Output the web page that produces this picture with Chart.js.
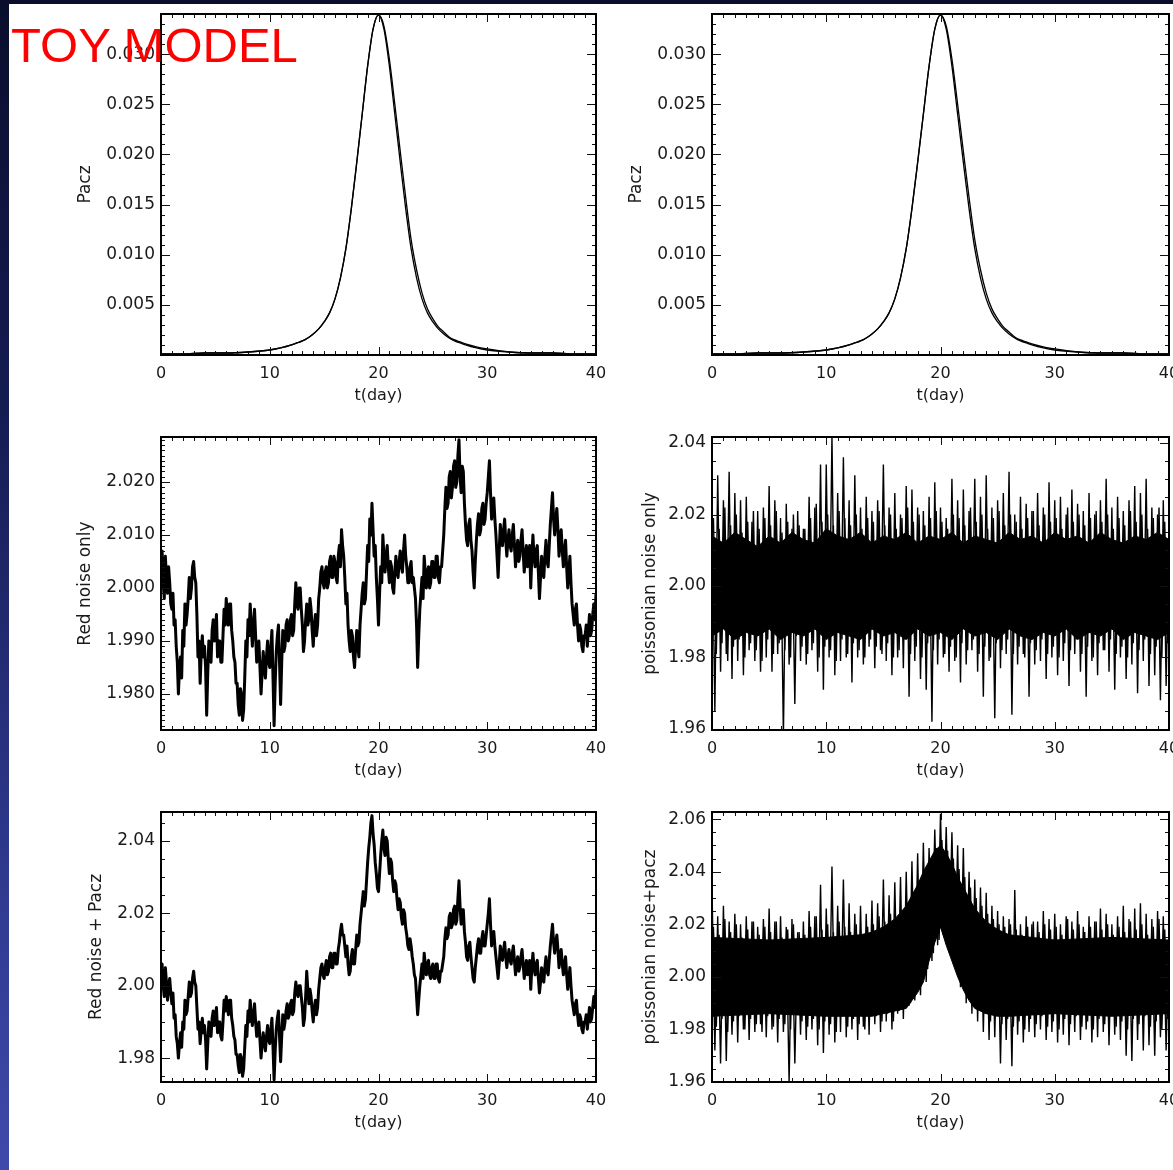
<!DOCTYPE html>
<html>
<head>
<meta charset="utf-8">
<title>Toy model</title>
<script src="https://cdn.jsdelivr.net/npm/chart.js@4.4.1/dist/chart.umd.min.js"></script>
<style>
  html, body { margin: 0; padding: 0; }
  body { width: 1173px; height: 1170px; overflow: hidden; background: #fff; position: relative; }
  #edgeLeft { position: absolute; left: 0; top: 0; width: 9px; height: 1170px;
    background: linear-gradient(to bottom, #0a0e2c 0%, #151c52 35%, #2c3688 70%, #4049aa 100%); }
  #edgeTop { position: absolute; left: 0; top: 0; width: 1173px; height: 4px; background: #0a0e2c; }
  canvas { position: absolute; }
  #title { position: absolute; left: 11px; top: 21px; font: 49px/49px "Liberation Sans", Arial, sans-serif;
    color: #ff0000; z-index: 10; white-space: nowrap; }
</style>
</head>
<body>
<div id="edgeLeft"></div>
<div id="edgeTop"></div>
<div id="title">TOY MODEL</div>
<script>
// ---- data ----

const X_TICKS = [0, 10, 20, 30, 40];
const PACZ_TICKS = [0.005, 0.010, 0.015, 0.020, 0.025, 0.030];
const RED_TICKS = [1.980, 1.990, 2.000, 2.010, 2.020];
const POIS_TICKS = [1.96, 1.98, 2.00, 2.02, 2.04];
const REDPACZ_TICKS = [1.98, 2.00, 2.02, 2.04];
const POISPACZ_TICKS = [1.96, 1.98, 2.00, 2.02, 2.04, 2.06];

// Paczynski curve, two nearly identical models
const PACZ_T = [0, 2, 4, 6, 8, 10, 11, 12, 12.5, 13, 13.5, 14, 14.5, 15, 15.5, 16, 16.5, 17, 17.5, 18, 18.5,
  19, 19.5, 20, 20.5, 21, 21.5, 22, 22.5, 23, 23.5, 24, 24.5, 25, 25.5, 26, 26.5, 27, 27.5, 28,
  29, 30, 32, 34, 36, 38, 40];
const PACZ_A = [0.0001, 0.0001, 0.0002, 0.0002, 0.0003, 0.0005, 0.0007,
  0.0010, 0.0012, 0.0014, 0.0017, 0.0021, 0.0026, 0.0033, 0.0042, 0.0056, 0.0077, 0.0106, 0.0146, 0.0192,
  0.0240, 0.0288, 0.0325, 0.0339, 0.0325, 0.0288, 0.0240, 0.0192, 0.0146, 0.0106, 0.0077, 0.0056, 0.0042,
  0.0033, 0.0026, 0.0021, 0.0017, 0.0014, 0.0012, 0.0010,
  0.0007, 0.0005, 0.0003, 0.0002, 0.0002, 0.0001, 0.0001];
const PACZ_B = [0.0001, 0.0001, 0.0002, 0.0002, 0.0003, 0.0005, 0.0007,
  0.0010, 0.0012, 0.0014, 0.0017, 0.0021, 0.0026, 0.0033, 0.0042, 0.0056, 0.0077, 0.0106, 0.0146, 0.0192,
  0.0240, 0.0288, 0.0325, 0.0339, 0.0328, 0.0295, 0.0250, 0.0203, 0.0157, 0.0115, 0.0085, 0.0062, 0.0046,
  0.0036, 0.0028, 0.0023, 0.0018, 0.0015, 0.0013, 0.0011,
  0.0008, 0.0006, 0.0003, 0.0002, 0.0002, 0.0001, 0.0001];

// red noise, sampled every 0.1 day (one row per day)
const RED_STEP = 0.1;
const RED_NOISE = [
  2.004, 2.007, 2.001, 1.998, 2.006, 2.002, 1.999, 2.004, 2.001, 1.997,
  1.996, 1.999, 1.993, 1.994, 1.989, 1.986, 1.980, 1.985, 1.987, 1.983,
  1.992, 1.989, 1.997, 1.993, 1.995, 1.998, 2.002, 1.998, 2.000, 2.004,
  2.005, 2.002, 2.001, 1.995, 1.987, 1.990, 1.982, 1.988, 1.991, 1.987,
  1.989, 1.985, 1.976, 1.984, 1.990, 1.987, 1.986, 1.992, 1.994, 1.990,
  1.992, 1.995, 1.987, 1.990, 1.990, 1.986, 1.986, 1.991, 1.996, 1.993,
  1.998, 1.994, 1.993, 1.997, 1.997, 1.992, 1.990, 1.987, 1.986, 1.982,
  1.982, 1.978, 1.976, 1.981, 1.980, 1.975, 1.977, 1.983, 1.990, 1.987,
  1.994, 1.991, 1.997, 1.993, 1.989, 1.993, 1.996, 1.991, 1.986, 1.989,
  1.990, 1.985, 1.980, 1.984, 1.988, 1.985, 1.983, 1.987, 1.990, 1.986,
  1.985, 1.989, 1.992, 1.983, 1.974, 1.982, 1.988, 1.991, 1.993, 1.986,
  1.978, 1.986, 1.992, 1.988, 1.989, 1.993, 1.994, 1.990, 1.991, 1.994,
  1.995, 1.991, 1.992, 1.997, 2.001, 1.997, 1.996, 2.000, 2.000, 1.996,
  1.993, 1.988, 1.990, 1.994, 1.997, 1.993, 1.994, 1.998, 1.996, 1.992,
  1.989, 1.993, 1.995, 1.991, 1.993, 1.998, 2.000, 2.003, 2.004, 2.001,
  2.000, 2.003, 2.004, 2.000, 2.001, 2.005, 2.006, 2.002, 2.002, 2.006,
  2.005, 2.002, 2.001, 2.006, 2.008, 2.004, 2.011, 2.008, 2.006, 2.002,
  1.997, 1.999, 1.993, 1.990, 1.988, 1.992, 1.991, 1.987, 1.985, 1.989,
  1.992, 1.989, 1.987, 1.993, 1.996, 1.999, 2.001, 1.997, 1.998, 2.003,
  2.008, 2.005, 2.013, 2.010, 2.016, 2.011, 2.006, 2.008, 2.002, 1.998,
  1.993, 1.999, 2.004, 2.001, 2.010, 2.006, 2.003, 2.006, 2.008, 2.004,
  2.001, 2.005, 2.004, 2.000, 1.999, 2.003, 2.006, 2.003, 2.002, 2.005,
  2.007, 2.004, 2.003, 2.007, 2.010, 2.006, 2.004, 2.001, 2.001, 2.004,
  2.005, 2.001, 2.002, 2.000, 1.998, 1.993, 1.985, 1.991, 1.996, 1.999,
  2.002, 1.998, 2.006, 2.003, 2.000, 2.003, 2.004, 2.000, 2.001, 2.005,
  2.005, 2.002, 2.002, 2.006, 2.006, 2.002, 2.001, 2.004, 2.004, 2.007,
  2.010, 2.015, 2.019, 2.015, 2.016, 2.021, 2.022, 2.017, 2.019, 2.023,
  2.024, 2.019, 2.020, 2.025, 2.028, 2.021, 2.018, 2.023, 2.022, 2.016,
  2.012, 2.009, 2.008, 2.012, 2.013, 2.009, 2.007, 2.003, 2.000, 2.005,
  2.009, 2.012, 2.014, 2.010, 2.011, 2.015, 2.016, 2.012, 2.013, 2.016,
  2.018, 2.021, 2.024, 2.018, 2.013, 2.016, 2.017, 2.013, 2.010, 2.006,
  2.002, 2.007, 2.012, 2.009, 2.008, 2.011, 2.013, 2.009, 2.006, 2.009,
  2.011, 2.008, 2.007, 2.010, 2.012, 2.008, 2.004, 2.007, 2.009, 2.005,
  2.006, 2.009, 2.011, 2.007, 2.003, 2.006, 2.008, 2.004, 2.005, 2.008,
  2.000, 2.006, 2.010, 2.006, 2.004, 2.007, 2.008, 2.003, 1.998, 2.002,
  2.006, 2.003, 2.002, 2.006, 2.009, 2.005, 2.004, 2.008, 2.012, 2.015,
  2.018, 2.013, 2.010, 2.013, 2.015, 2.011, 2.006, 2.009, 2.011, 2.007,
  2.004, 2.007, 2.009, 2.004, 2.000, 2.003, 2.006, 2.001, 1.997, 1.995,
  1.993, 1.996, 1.997, 1.993, 1.990, 1.993, 1.992, 1.989, 1.988, 1.991,
  1.991, 1.993, 1.989, 1.992, 1.995, 1.991, 1.992, 1.995, 1.997, 1.994,
  1.999];
const RED_PACZ = [
  2.004, 2.006, 2.000, 1.997, 2.005, 2.001, 1.996, 2.000, 2.002, 1.998,
  1.995, 1.998, 1.991, 1.992, 1.986, 1.984, 1.980, 1.984, 1.987, 1.983,
  1.990, 1.988, 1.996, 1.992, 1.993, 1.997, 2.001, 1.997, 1.998, 2.002,
  2.004, 2.001, 2.000, 1.994, 1.988, 1.990, 1.984, 1.988, 1.991, 1.987,
  1.989, 1.985, 1.977, 1.984, 1.990, 1.987, 1.986, 1.991, 1.993, 1.989,
  1.991, 1.994, 1.987, 1.990, 1.990, 1.986, 1.985, 1.990, 1.996, 1.993,
  1.997, 1.994, 1.992, 1.996, 1.996, 1.991, 1.989, 1.986, 1.985, 1.981,
  1.981, 1.978, 1.976, 1.981, 1.980, 1.975, 1.977, 1.983, 1.989, 1.986,
  1.993, 1.990, 1.996, 1.992, 1.989, 1.992, 1.995, 1.990, 1.986, 1.988,
  1.990, 1.985, 1.980, 1.984, 1.987, 1.984, 1.982, 1.986, 1.989, 1.985,
  1.984, 1.988, 1.991, 1.983, 1.974, 1.982, 1.988, 1.991, 1.993, 1.986,
  1.979, 1.986, 1.992, 1.988, 1.990, 1.993, 1.995, 1.991, 1.992, 1.995,
  1.996, 1.992, 1.993, 1.998, 2.001, 1.998, 1.997, 2.000, 2.000, 1.997,
  1.994, 1.989, 1.991, 1.997, 2.004, 1.999, 1.995, 1.999, 1.997, 1.993,
  1.990, 1.994, 1.996, 1.992, 1.994, 1.999, 2.002, 2.005, 2.006, 2.003,
  2.002, 2.005, 2.007, 2.003, 2.004, 2.008, 2.009, 2.005, 2.005, 2.009,
  2.009, 2.006, 2.006, 2.010, 2.012, 2.015, 2.017, 2.014, 2.014, 2.011,
  2.008, 2.011, 2.006, 2.003, 2.004, 2.008, 2.010, 2.006, 2.006, 2.010,
  2.014, 2.011, 2.012, 2.017, 2.020, 2.023, 2.026, 2.022, 2.024, 2.029,
  2.034, 2.038, 2.041, 2.045, 2.047, 2.042, 2.039, 2.034, 2.031, 2.027,
  2.026, 2.031, 2.036, 2.040, 2.043, 2.038, 2.036, 2.041, 2.040, 2.035,
  2.031, 2.035, 2.034, 2.029, 2.026, 2.029, 2.028, 2.024, 2.021, 2.024,
  2.023, 2.019, 2.017, 2.021, 2.020, 2.016, 2.014, 2.011, 2.010, 2.013,
  2.011, 2.008, 2.006, 2.003, 2.002, 1.997, 1.992, 1.996, 2.000, 2.003,
  2.006, 2.002, 2.009, 2.006, 2.003, 2.006, 2.007, 2.003, 2.002, 2.005,
  2.006, 2.002, 2.002, 2.006, 2.006, 2.002, 2.001, 2.004, 2.004, 2.006,
  2.008, 2.013, 2.016, 2.013, 2.014, 2.019, 2.020, 2.016, 2.017, 2.021,
  2.022, 2.017, 2.018, 2.024, 2.029, 2.022, 2.017, 2.021, 2.021, 2.015,
  2.012, 2.008, 2.007, 2.011, 2.012, 2.008, 2.005, 2.002, 2.001, 2.005,
  2.008, 2.011, 2.013, 2.009, 2.009, 2.013, 2.015, 2.011, 2.011, 2.014,
  2.017, 2.020, 2.024, 2.017, 2.011, 2.014, 2.015, 2.011, 2.008, 2.005,
  2.002, 2.006, 2.011, 2.008, 2.007, 2.010, 2.012, 2.008, 2.005, 2.008,
  2.010, 2.007, 2.006, 2.009, 2.011, 2.007, 2.003, 2.006, 2.008, 2.004,
  2.005, 2.008, 2.010, 2.006, 2.002, 2.005, 2.007, 2.003, 2.004, 2.007,
  1.999, 2.005, 2.009, 2.005, 2.003, 2.006, 2.007, 2.002, 1.998, 2.001,
  2.005, 2.002, 2.001, 2.005, 2.008, 2.004, 2.003, 2.007, 2.011, 2.014,
  2.017, 2.012, 2.009, 2.012, 2.014, 2.010, 2.005, 2.008, 2.010, 2.006,
  2.003, 2.006, 2.008, 2.003, 1.999, 2.002, 2.005, 2.000, 1.996, 1.994,
  1.992, 1.995, 1.996, 1.992, 1.989, 1.992, 1.991, 1.988, 1.987, 1.990,
  1.990, 1.992, 1.988, 1.991, 1.994, 1.990, 1.991, 1.994, 1.997, 1.994,
  1.999];

// poissonian noise: tall spikes every 0.25 day, a denser fringe offset by 0.125 day,
// and the solid core of the band
const POIS_STEP = 0.25;
const FRINGE_START = 0.125;
const POIS_NOISE = [
  2.022, 1.965, 2.031, 1.976, 2.024, 1.981, 2.032, 1.974,
  2.026, 1.979, 2.024, 1.975, 2.025, 1.982, 2.018, 1.979,
  2.021, 1.976, 2.022, 1.980, 2.028, 1.976, 2.024, 1.981,
  2.019, 1.958, 2.023, 1.978, 2.016, 1.967, 2.021, 1.979,
  2.016, 1.978, 2.025, 1.982, 2.022, 1.976, 2.034, 1.971,
  2.034, 1.980, 2.042, 1.975, 2.026, 1.979, 2.036, 1.980,
  2.024, 1.973, 2.031, 1.980, 2.022, 1.978, 2.025, 1.983,
  2.021, 1.977, 2.024, 1.982, 2.034, 1.979, 2.022, 1.975,
  2.026, 1.980, 2.020, 1.977, 2.028, 1.969, 2.027, 1.979,
  2.022, 1.974, 2.021, 1.971, 2.025, 1.962, 2.029, 1.978,
  2.022, 1.980, 2.019, 1.976, 2.030, 1.979, 2.024, 1.973,
  2.027, 1.978, 2.021, 1.982, 2.030, 1.976, 2.025, 1.969,
  2.031, 1.979, 2.022, 1.963, 2.024, 1.977, 2.026, 1.981,
  2.032, 1.964, 2.020, 1.978, 2.025, 1.981, 2.023, 1.969,
  2.021, 1.978, 2.026, 1.979, 2.022, 1.974, 2.029, 1.980,
  2.024, 1.975, 2.025, 1.979, 2.020, 1.972, 2.027, 1.981,
  2.023, 1.976, 2.021, 1.969, 2.026, 1.979, 2.020, 1.975,
  2.024, 1.982, 2.030, 1.976, 2.022, 1.971, 2.025, 1.980,
  2.021, 1.974, 2.024, 1.978, 2.028, 1.970, 2.026, 1.979,
  2.030, 1.972, 2.022, 1.975, 2.020, 1.968, 2.024, 1.972,
  2.016];
const POIS_FRINGE = [
  2.019, 1.981, 2.016, 1.984, 2.022, 1.979, 2.017, 1.983,
  2.020, 1.985, 2.015, 1.980, 2.018, 1.984, 2.021, 1.982,
  2.016, 1.979, 2.019, 1.985, 2.017, 1.981, 2.021, 1.984,
  2.015, 1.982, 2.018, 1.980, 2.020, 1.986, 2.017, 1.983,
  2.016, 1.981, 2.019, 1.984, 2.023, 1.980, 2.018, 1.983,
  2.020, 1.982, 2.017, 1.979, 2.021, 1.985, 2.019, 1.981,
  2.017, 1.984, 2.020, 1.982, 2.016, 1.980, 2.019, 1.985,
  2.018, 1.983, 2.021, 1.981, 2.017, 1.984, 2.020, 1.980,
  2.016, 1.982, 2.019, 1.985, 2.022, 1.981, 2.018, 1.983,
  2.020, 1.980, 2.017, 1.984, 2.019, 1.982, 2.021, 1.985,
  2.018, 1.981, 2.016, 1.983, 2.020, 1.980, 2.019, 1.984,
  2.017, 1.982, 2.022, 1.985, 2.018, 1.981, 2.020, 1.983,
  2.016, 1.980, 2.019, 1.984, 2.021, 1.982, 2.017, 1.985,
  2.020, 1.981, 2.018, 1.983, 2.016, 1.980, 2.019, 1.984,
  2.021, 1.982, 2.017, 1.985, 2.020, 1.981, 2.018, 1.983,
  2.019, 1.980, 2.016, 1.984, 2.022, 1.982, 2.018, 1.985,
  2.020, 1.981, 2.017, 1.983, 2.019, 1.980, 2.021, 1.984,
  2.018, 1.982, 2.020, 1.985, 2.016, 1.981, 2.019, 1.983,
  2.017, 1.980, 2.021, 1.984, 2.018, 1.982, 2.020, 1.985,
  2.016, 1.981, 2.019, 1.983, 2.022, 1.980, 2.018, 1.984];
const POIS_CORE_T = [0, 1, 2, 3, 4, 5, 6, 7, 8, 9, 10, 11, 12, 13, 14, 15, 16, 17, 18, 19, 20,
  21, 22, 23, 24, 25, 26, 27, 28, 29, 30, 31, 32, 33, 34, 35, 36, 37, 38, 39, 40];
const POIS_CORE_HI = [2.014, 2.012, 2.015, 2.013, 2.011, 2.014, 2.012, 2.015, 2.013, 2.012, 2.016,
  2.014, 2.013, 2.015, 2.012, 2.014, 2.013, 2.015, 2.012, 2.014, 2.013, 2.015, 2.012, 2.014, 2.013,
  2.012, 2.015, 2.013, 2.014, 2.012, 2.015, 2.013, 2.014, 2.012, 2.015, 2.013, 2.012, 2.014, 2.013,
  2.015, 2.013];
const POIS_CORE_LO = [1.986, 1.988, 1.985, 1.987, 1.986, 1.988, 1.985, 1.987, 1.986, 1.988, 1.985,
  1.987, 1.986, 1.985, 1.988, 1.986, 1.987, 1.985, 1.988, 1.986, 1.987, 1.985, 1.988, 1.986, 1.987,
  1.985, 1.988, 1.986, 1.985, 1.987, 1.986, 1.988, 1.985, 1.987, 1.986, 1.988, 1.985, 1.987, 1.986,
  1.985, 1.987];

const POIS_PACZ = [
  2.034, 1.972, 2.023, 1.967, 2.027, 1.968, 2.021, 1.978,
  2.024, 1.975, 2.020, 1.980, 2.023, 1.976, 2.021, 1.979,
  2.019, 1.982, 2.022, 1.977, 2.026, 1.980, 2.021, 1.975,
  2.023, 1.979, 2.019, 1.960, 2.022, 1.967, 2.017, 1.978,
  2.021, 1.976, 2.025, 1.980, 2.023, 1.974, 2.035, 1.971,
  2.026, 1.978, 2.042, 1.975, 2.027, 1.979, 2.037, 1.977,
  2.028, 1.980, 2.024, 1.976, 2.027, 1.981, 2.024, 1.978,
  2.029, 1.982, 2.028, 1.979, 2.037, 1.983, 2.031, 1.980,
  2.036, 1.986, 2.038, 1.984, 2.040, 1.989, 2.044, 1.991,
  2.047, 1.993, 2.051, 1.998, 2.049, 2.006, 2.056, 2.012,
  2.062, 2.016, 2.057, 2.010, 2.055, 2.004, 2.050, 1.996,
  2.049, 1.990, 2.040, 1.986, 2.037, 1.983, 2.034, 1.979,
  2.032, 1.976, 2.027, 1.977, 2.025, 1.967, 2.023, 1.976,
  2.022, 1.966, 2.033, 1.978, 2.020, 1.975, 2.023, 1.979,
  2.020, 1.977, 2.021, 1.980, 2.025, 1.976, 2.022, 1.979,
  2.024, 1.975, 2.020, 1.978, 2.023, 1.974, 2.021, 1.979,
  2.025, 1.976, 2.019, 1.980, 2.023, 1.975, 2.021, 1.977,
  2.026, 1.979, 2.024, 1.974, 2.020, 1.978, 2.023, 1.976,
  2.027, 1.970, 2.022, 1.968, 2.026, 1.976, 2.028, 1.972,
  2.024, 1.974, 2.022, 1.970, 2.025, 1.977, 2.023, 1.972,
  2.018];
const PP_FRINGE = [
  2.019, 1.981, 2.016, 1.984, 2.022, 1.979, 2.017, 1.983,
  2.020, 1.985, 2.015, 1.980, 2.018, 1.984, 2.021, 1.982,
  2.016, 1.979, 2.019, 1.985, 2.017, 1.981, 2.021, 1.984,
  2.015, 1.982, 2.018, 1.980, 2.020, 1.986, 2.017, 1.983,
  2.016, 1.981, 2.019, 1.984, 2.023, 1.980, 2.018, 1.983,
  2.020, 1.982, 2.017, 1.979, 2.021, 1.985, 2.019, 1.981,
  2.017, 1.984, 2.020, 1.982, 2.016, 1.980, 2.019, 1.985,
  2.020, 1.985, 2.023, 1.983, 2.021, 1.986, 2.024, 1.983,
  2.021, 1.987, 2.025, 1.989, 2.028, 1.990, 2.032, 1.994,
  2.036, 1.998, 2.041, 2.003, 2.045, 2.009, 2.049, 2.014,
  2.052, 2.017, 2.048, 2.011, 2.045, 2.006, 2.041, 2.001,
  2.038, 1.995, 2.034, 1.991, 2.030, 1.988, 2.027, 1.986,
  2.024, 1.983, 2.022, 1.985, 2.020, 1.982, 2.019, 1.984,
  2.020, 1.981, 2.018, 1.983, 2.016, 1.980, 2.019, 1.984,
  2.021, 1.982, 2.017, 1.985, 2.020, 1.981, 2.018, 1.983,
  2.019, 1.980, 2.016, 1.984, 2.022, 1.982, 2.018, 1.985,
  2.020, 1.981, 2.017, 1.983, 2.019, 1.980, 2.021, 1.984,
  2.018, 1.982, 2.020, 1.985, 2.016, 1.981, 2.019, 1.983,
  2.017, 1.980, 2.021, 1.984, 2.018, 1.982, 2.020, 1.985,
  2.016, 1.981, 2.019, 1.983, 2.022, 1.980, 2.018, 1.984];
const PP_CORE_T = [0, 5, 10, 13, 14, 15, 16, 17, 17.5, 18, 18.5, 19, 19.5, 20, 20.5, 21, 21.5, 22, 22.5, 23, 24, 25, 26, 30, 35, 40];
const PP_CORE_HI = [2.015, 2.014, 2.015, 2.016, 2.017, 2.019, 2.022, 2.027, 2.031, 2.035, 2.040, 2.044, 2.048,
  2.050, 2.047, 2.043, 2.038, 2.034, 2.030, 2.026, 2.021, 2.018, 2.016, 2.014, 2.015, 2.014];
const PP_CORE_LO = [1.985, 1.986, 1.985, 1.985, 1.985, 1.986, 1.987, 1.988, 1.991, 1.994, 1.998, 2.006, 2.013,
  2.019, 2.012, 2.006, 2.000, 1.995, 1.991, 1.988, 1.986, 1.985, 1.985, 1.986, 1.985, 1.986];

// ---- drawing ----

const FONT = '"DejaVu Sans", sans-serif';
const INK = '#1a1a1a';

const pts = (t, v) => v.map((y, i) => ({ x: t[i], y }));
const sampled = (v, step, start = 0) => v.map((y, i) => ({ x: +(start + i * step).toFixed(3), y }));

function line(data, width, extra) {
  return Object.assign({
    data, borderColor: '#000', borderWidth: width, pointRadius: 0,
    tension: 0, borderJoinStyle: 'round', fill: false,
  }, extra || {});
}

function band(t, hi, lo) {
  return [
    line(pts(t, hi), 1, { fill: '+1', backgroundColor: '#000' }),
    line(pts(t, lo), 1),
  ];
}

// IDL style frame: inward major/minor ticks on all four sides
const idlFrame = {
  id: 'idlFrame',
  afterDatasetsDraw(chart, args, o) {
    const { ctx, chartArea: a } = chart;
    const xs = chart.scales.x, ys = chart.scales.y;
    ctx.save();
    ctx.strokeStyle = '#111';
    ctx.lineWidth = 1;
    ctx.beginPath();
    const mark = (s, step, len) => {
      const n0 = Math.ceil(s.min / step - 1e-6), n1 = Math.floor(s.max / step + 1e-6);
      for (let k = n0; k <= n1; k++) {
        const p = Math.round(s.getPixelForValue(k * step)) + 0.5;
        if (s.isHorizontal()) {
          ctx.moveTo(p, a.bottom); ctx.lineTo(p, a.bottom - len);
          ctx.moveTo(p, a.top); ctx.lineTo(p, a.top + len);
        } else {
          ctx.moveTo(a.left, p); ctx.lineTo(a.left + len, p);
          ctx.moveTo(a.right, p); ctx.lineTo(a.right - len, p);
        }
      }
    };
    mark(xs, 1, 4); mark(xs, 10, 8);
    mark(ys, o.yMinor, 4); mark(ys, o.yMajor, 9);
    ctx.stroke();
    ctx.lineWidth = 2;
    ctx.strokeStyle = '#000';
    ctx.strokeRect(a.left, a.top, a.right - a.left, a.bottom - a.top);
    ctx.restore();
  }
};

function panel(cfg) {
  const [l, r, t, b] = cfg.box;
  const padL = 110, padT = 12, padR = 30, axisH = 62;
  const cl = l - padL, ct = t - padT;
  const w = r + padR - cl, h = b + axisH - ct;
  const cv = document.createElement('canvas');
  cv.width = w; cv.height = h;
  cv.style.left = cl + 'px'; cv.style.top = ct + 'px';
  cv.style.width = w + 'px'; cv.style.height = h + 'px';
  document.body.appendChild(cv);

  new Chart(cv, {
    type: 'line',
    data: { datasets: cfg.sets },
    plugins: [idlFrame],
    options: {
      responsive: false, animation: false, devicePixelRatio: 1,
      layout: { padding: { left: 0, top: padT, right: padR, bottom: 0 } },
      plugins: {
        legend: { display: false }, tooltip: { enabled: false },
        idlFrame: { yMajor: cfg.yMajor, yMinor: cfg.yMinor },
      },
      scales: {
        x: {
          type: 'linear', min: 0, max: 40,
          grid: { display: false, drawTicks: false }, border: { display: false },
          afterBuildTicks: s => { s.ticks = X_TICKS.map(v => ({ value: v })); },
          afterFit: s => { s.height = axisH; s.paddingLeft = 0; s.paddingRight = 0; },
          ticks: { color: INK, font: { family: FONT, size: 16 }, padding: 9.4, maxRotation: 0, autoSkip: false },
          title: { display: true, text: 't(day)', color: INK, font: { family: FONT, size: 16 },
            padding: { top: 0, bottom: axisH - 41 - 9.6 } },
        },
        y: {
          type: 'linear', min: cfg.yMin, max: cfg.yMax,
          grid: { display: false, drawTicks: false }, border: { display: false },
          afterBuildTicks: s => { s.ticks = cfg.yTicks.map(v => ({ value: v })); },
          afterFit: s => { s.width = padL; s.paddingTop = 0; s.paddingBottom = 0; },
          ticks: { color: INK, font: { family: FONT, size: 17 }, padding: 6, autoSkip: false,
            callback: v => v.toFixed(cfg.dec) },
          title: { display: true, text: cfg.yTitle, color: INK, font: { family: FONT, size: 17 },
            padding: { top: cfg.yTitleX - cl - 10.2, bottom: 0 } },
        },
      },
    },
  });
}

const paczSets = () => [
  line(pts(PACZ_T, PACZ_A), 1.3, { cubicInterpolationMode: 'monotone' }),
  line(pts(PACZ_T, PACZ_B), 1.3, { cubicInterpolationMode: 'monotone' }),
];
const spikes = (v) => line(sampled(v, POIS_STEP), 1.4, { borderJoinStyle: 'bevel' });
const fringe = (v) => line(sampled(v, POIS_STEP, FRINGE_START), 1.4, { borderJoinStyle: 'bevel' });

panel({ box: [161, 596, 14, 355], yTitle: 'Pacz', yTitleX: 86, yMin: 0, yMax: 0.0340,
  yTicks: PACZ_TICKS, dec: 3, yMajor: 0.005, yMinor: 0.001, sets: paczSets() });
panel({ box: [712, 1169, 14, 355], yTitle: 'Pacz', yTitleX: 637, yMin: 0, yMax: 0.0340,
  yTicks: PACZ_TICKS, dec: 3, yMajor: 0.005, yMinor: 0.001, sets: paczSets() });

panel({ box: [161, 596, 437, 730], yTitle: 'Red noise only', yTitleX: 86, yMin: 1.9732, yMax: 2.0285,
  yTicks: RED_TICKS, dec: 3, yMajor: 0.01, yMinor: 0.001,
  sets: [line(sampled(RED_NOISE, RED_STEP), 3)] });
panel({ box: [712, 1169, 437, 730], yTitle: 'poissonian noise only', yTitleX: 651, yMin: 1.9597, yMax: 2.0417,
  yTicks: POIS_TICKS, dec: 2, yMajor: 0.02, yMinor: 0.005,
  sets: [...band(POIS_CORE_T, POIS_CORE_HI, POIS_CORE_LO), fringe(POIS_FRINGE), spikes(POIS_NOISE)] });

panel({ box: [161, 596, 812, 1082], yTitle: 'Red noise + Pacz', yTitleX: 97, yMin: 1.9734, yMax: 2.048,
  yTicks: REDPACZ_TICKS, dec: 2, yMajor: 0.02, yMinor: 0.005,
  sets: [line(sampled(RED_PACZ, RED_STEP), 3)] });
panel({ box: [712, 1169, 812, 1082], yTitle: 'poissonian noise+pacz', yTitleX: 651, yMin: 1.96, yMax: 2.0627,
  yTicks: POISPACZ_TICKS, dec: 2, yMajor: 0.02, yMinor: 0.005,
  sets: [...band(PP_CORE_T, PP_CORE_HI, PP_CORE_LO), fringe(PP_FRINGE), spikes(POIS_PACZ)] });
</script>
</body>
</html>
